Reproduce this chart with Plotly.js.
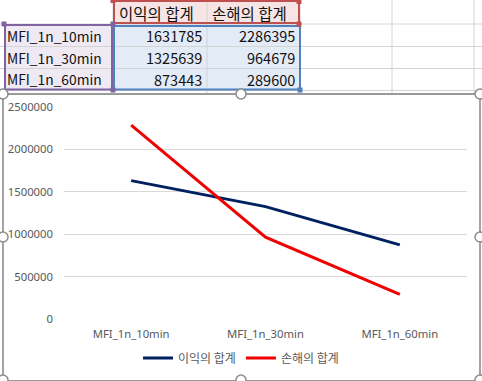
<!DOCTYPE html>
<html><head><meta charset="utf-8">
<script src="https://cdn.plot.ly/plotly-3.0.1.min.js"></script>
<style>html,body{margin:0;padding:0;background:#fff;}#chart{width:482px;height:381px;}</style>
</head><body><div id="chart"></div>
<script>
const categories = ["MFI_1n_10min", "MFI_1n_30min", "MFI_1n_60min"];
const seriesNames = ["이익의 합계", "손해의 합계"];
const profit = [1631785, 1325639, 873443];
const loss = [2286395, 964679, 289600];
const yTicks = [0, 500000, 1000000, 1500000, 2000000, 2500000];

const W = 482, H = 381;
const px = x => x / W;
const py = y => 1 - y / H;

const shapes = [];
const annotations = [];
function rect(x0, y0, x1, y1, fill, line, lw, layer) {
  shapes.push({type: 'rect', xref: 'paper', yref: 'paper', x0: px(x0), x1: px(x1), y0: py(y1), y1: py(y0),
    fillcolor: fill || 'rgba(0,0,0,0)', line: {color: line || 'rgba(0,0,0,0)', width: lw || 0}, layer: layer || 'below'});
}
function line(x0, y0, x1, y1, color, w, layer) {
  shapes.push({type: 'line', xref: 'paper', yref: 'paper', x0: px(x0), x1: px(x1), y0: py(y0), y1: py(y1),
    line: {color: color, width: w}, layer: layer || 'below'});
}
function circ(cx, cy, r) {
  shapes.push({type: 'circle', xref: 'paper', yref: 'paper', x0: px(cx - r), x1: px(cx + r), y0: py(cy + r), y1: py(cy - r),
    fillcolor: '#ffffff', line: {color: '#8c8c8c', width: 1.5}, layer: 'above'});
}
function txt(x, y, s, anchor, size) {
  annotations.push({xref: 'paper', yref: 'paper', x: px(x), y: py(y), text: s, showarrow: false,
    xanchor: anchor, yanchor: 'middle', font: {family: 'Noto Sans CJK KR, Noto Sans, sans-serif', size: size || 14, color: '#111'}});
}

// sheet cells
const colX = [4, 113, 207, 300];
const rowY = [0, 24, 46.5, 68.5, 90.5];
rect(colX[1], rowY[0], colX[3], rowY[1], '#f7e4e4');
rect(colX[0], rowY[1], colX[1], rowY[4], '#efe9f4');
rect(colX[1], rowY[1], colX[3], rowY[4], '#e3ebf7');
// sheet gridlines
[113, 207, 300, 392, 474].forEach(x => line(x, 0, x, 94, '#d4d4d4', 1));
[24, 46.5, 68.5, 90.5].forEach(y => line(0, y, 482, y, '#d4d4d4', 1));
// selection borders
rect(colX[1] + 1, rowY[0] + 1, colX[3] - 1, rowY[1] - 1, null, '#c0504d', 2);
rect(colX[0] + 1, rowY[1] + 1, colX[1] - 1, rowY[4] - 1, null, '#8064a2', 2);
rect(colX[1] + 1, rowY[1] + 2, colX[3], rowY[4] - 1, null, '#4f81bd', 2);
// handles on selection
rect(110.5, -2, 115.5, 3, '#c0504d', '#c0504d', 0);
rect(296.5, -1, 301.5, 4, '#c0504d', '#c0504d', 0);
rect(296.5, 21.5, 301.5, 26.5, '#c0504d', '#c0504d', 0);
rect(110.5, 21.5, 115.5, 26.5, '#8064a2', '#8064a2', 0);
rect(1.5, 21.5, 6.5, 26.5, '#8064a2', '#8064a2', 0);
rect(110.5, 87.5, 115.5, 92.5, '#8064a2', '#8064a2', 0);
rect(297.5, 87.5, 302.5, 92.5, '#4f81bd', '#4f81bd', 0);

// table text
txt(colX[1] + 4, 13, seriesNames[0], 'left', 15.5);
txt(colX[2] + 3, 13, seriesNames[1], 'left', 15.5);
const rowMid = [35.5, 57.5, 79.5];
categories.forEach((c, i) => {
  txt(colX[0] + 1, rowMid[i], c, 'left', 13.8);
  txt(colX[2] - 3, rowMid[i], String(profit[i]), 'right', 14.5);
  txt(colX[3] - 3, rowMid[i], String(loss[i]), 'right', 14.5);
});

// chart area
rect(3, 94, 480, 381, '#ffffff', '#9a9a9a', 1.8);
[[3, 94], [241, 94], [480, 94], [3, 237], [480, 237], [3, 380], [241, 380], [480, 380]].forEach(p => circ(p[0], p[1], 5));

const fontC = {family: 'Noto Sans, Noto Sans CJK KR, sans-serif', size: 11.3, color: '#595959'};
const traces = [
  {x: categories, y: profit, name: seriesNames[0], type: 'scatter', mode: 'lines', line: {color: '#002060', width: 3}},
  {x: categories, y: loss, name: seriesNames[1], type: 'scatter', mode: 'lines', line: {color: '#f00000', width: 3}}
];
const layout = {
  width: W, height: H,
  margin: {l: 0, r: 0, t: 0, b: 0},
  paper_bgcolor: '#ffffff', plot_bgcolor: 'rgba(0,0,0,0)',
  font: fontC,
  xaxis: {type: 'category', domain: [px(64), px(467)], anchor: 'y', range: [-0.5, 2.5], showgrid: false, zeroline: false,
    showline: false, ticks: '', tickfont: fontC, ticklabelstandoff: 7, fixedrange: true},
  yaxis: {domain: [py(319), py(107)], range: [0, 2500000], tickvals: yTicks, ticktext: yTicks.map(String),
    showgrid: true, gridcolor: '#d9d9d9', gridwidth: 1, zeroline: false, showline: false, ticks: '',
    tickfont: fontC, ticklabelstandoff: 10, fixedrange: true},
  showlegend: true,
  legend: {orientation: 'h', x: 0.5, xanchor: 'center', y: py(358), yanchor: 'middle',
    font: {family: 'Noto Sans CJK KR, Noto Sans, sans-serif', size: 12, color: '#595959'}, bgcolor: 'rgba(0,0,0,0)'},
  shapes: shapes,
  annotations: annotations
};
Plotly.newPlot('chart', traces, layout, {staticPlot: true, displayModeBar: false});
</script></body></html>
